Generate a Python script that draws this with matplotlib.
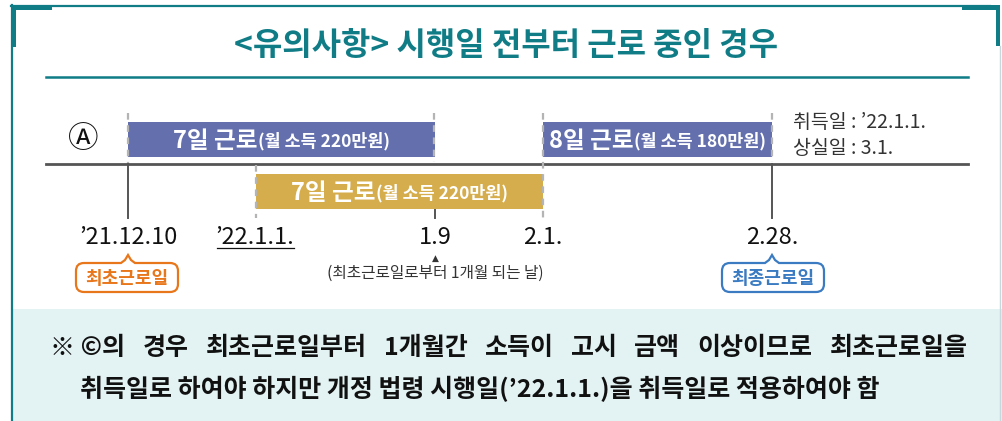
import numpy as np
import matplotlib
matplotlib.use("Agg")
import matplotlib.pyplot as plt
from matplotlib.patches import Rectangle, PathPatch
from matplotlib.path import Path

plt.rcParams['font.family'] = ['Noto Sans CJK KR', 'DejaVu Sans']

# ---- data ----
title = '<유의사항> 시행일 전부터 근로 중인 경우'
dates = ['’21.12.10', '’22.1.1.', '1.9', '2.1.', '2.28.']
bar_start = [0, 3, 1]          # index into dates
bar_end = [2, 4, 3]
bar_row = [0, 0, 1]            # 0 = above timeline, 1 = below
bar_days = ['7일 근로', '8일 근로', '7일 근로']
bar_income = ['(월 소득 220만원)', '(월 소득 180만원)', '(월 소득 220만원)']
side_note = ['취득일 : ’22.1.1.', '상실일 : 3.1.']
first_day = '최초근로일'
last_day = '최종근로일'
month_note = '(최초근로일로부터 1개월 되는 날)'
footer1 = ['※ ©의', '경우', '최초근로일부터', '1개월간', '소득이', '고시', '금액',
           '이상이므로', '최초근로일을']
footer2 = '취득일로 하여야 하지만 개정 법령 시행일(’22.1.1.)을 취득일로 적용하여야 함'

# ---- layout (pixels) ----
date_x = [128, 256, 435, 543, 772]
row_y = [(122, 157), (174, 209)]
bar_colors = ['#6470ae', '#6470ae', '#d5ad4c']
teal = '#0f7c86'

fig = plt.figure(figsize=(10.02, 4.21), dpi=100)
ax = fig.add_axes([0, 0, 1, 1])
ax.set_xlim(0, 1002)
ax.set_ylim(421, 0)
ax.axis('off')
renderer = fig.canvas.get_renderer()

# frame
ax.add_patch(Rectangle((13, 309), 989, 112, color='#e3f2f3', lw=0))
ax.plot([11, 990], [6, 6], color=teal, lw=1.6)
ax.add_patch(Rectangle((11, 5), 41, 5, color=teal, lw=0))
ax.add_patch(Rectangle((11, 5), 5, 42, color=teal, lw=0))
ax.plot([12, 12], [5, 421], color=teal, lw=1.6)
ax.add_patch(Rectangle((962, 5), 38, 5, color=teal, lw=0))
ax.add_patch(Rectangle((996, 5), 4, 41, color=teal, lw=0))
ax.plot([1000.5, 1000.5], [46, 421], color='#c5d9dd', lw=1)

# title
ax.text(506, 46, title, ha='center', va='center', fontsize=23,
        fontweight='bold', color=teal)
ax.plot([46, 968], [77, 77], color=teal, lw=1.8)

# bars
for s, e, r, d, inc, c in zip(bar_start, bar_end, bar_row, bar_days,
                              bar_income, bar_colors):
    x0, x1 = date_x[s], date_x[e]
    y0, y1 = row_y[r]
    ax.add_patch(Rectangle((x0, y0), x1 - x0, y1 - y0, color=c, lw=0))
    yc = (y0 + y1) / 2 + 1
    t1 = ax.text(0, yc, d, ha='left', va='center', fontsize=17,
                 fontweight='bold', color='white')
    t2 = ax.text(0, yc + 1, inc, ha='left', va='center', fontsize=12.5,
                 fontweight='bold', color='white')
    w1 = t1.get_window_extent(renderer).width
    w2 = t2.get_window_extent(renderer).width
    left = (x0 + x1) / 2 - (w1 + w2 + 1) / 2
    t1.set_x(left)
    t2.set_x(left + w1 + 1)

# timeline
ax.plot([46, 968], [164, 164], color='#555555', lw=2, zorder=3)

dash = dict(color='#b4b4b4', lw=1.6, ls=(0, (3, 2.5)), zorder=4)
solid = dict(color='#555555', lw=1.4, zorder=4)
ax.plot([date_x[0]] * 2, [113, 163], **dash)
ax.plot([date_x[0]] * 2, [164, 218], **solid)
ax.plot([date_x[1]] * 2, [165, 218], **dash)
ax.plot([date_x[2] - 1] * 2, [113, 162], **dash)
ax.plot([date_x[2]] * 2, [210, 218], **solid)
ax.plot([date_x[3]] * 2, [113, 218], **dash)
ax.plot([date_x[4]] * 2, [113, 162], **dash)
ax.plot([date_x[4]] * 2, [164, 218], **solid)

# date labels
for x, lab in zip(date_x, dates):
    ax.text(x if lab != dates[1] else 255, 237, lab, ha='center',
            va='center', fontsize=17, fontweight='medium', color='#111111')
ax.plot([217, 294], [248, 248], color='#111111', lw=0.9)

ax.text(83, 140, 'Ⓐ', ha='center', va='center', fontsize=22,
        color='#111111')

for i, line in enumerate(side_note):
    ax.text(793, 122 + i * 26, line, ha='left', va='center',
            fontsize=14, color='#333333')

ax.text(date_x[2], 258, '▲', ha='center', va='center', fontsize=6.5,
        color='#333333', family=['DejaVu Sans'])
ax.text(date_x[2], 273, month_note, ha='center', va='center',
        fontsize=11.3, color='#333333')


def bubble(cx, x0, x1, y0, y1, color, label):
    r = 8
    v = [(x0 + r, y0), (cx - 7, y0), (cx - 3, y0 - 3), (cx, y0 - 8),
         (cx + 3, y0 - 3), (cx + 7, y0), (x1 - r, y0),
         (x1, y0), (x1, y0 + r), (x1, y1 - r), (x1, y1), (x1 - r, y1),
         (x0 + r, y1), (x0, y1), (x0, y1 - r), (x0, y0 + r), (x0, y0),
         (x0 + r, y0)]
    codes = [Path.MOVETO, Path.LINETO, Path.LINETO, Path.LINETO,
             Path.LINETO, Path.LINETO, Path.LINETO,
             Path.CURVE3, Path.CURVE3, Path.LINETO, Path.CURVE3,
             Path.CURVE3, Path.LINETO, Path.CURVE3, Path.CURVE3,
             Path.LINETO, Path.CURVE3, Path.CURVE3]
    ax.add_patch(PathPatch(Path(v, codes), facecolor='white',
                           edgecolor=color, lw=1.6, zorder=5))
    ax.text((x0 + x1) / 2, (y0 + y1) / 2 + 1, label, ha='center',
            va='center', fontsize=13, fontweight='bold', color=color,
            zorder=6)


bubble(date_x[0], 76, 178, 263, 292, '#e8761a', first_day)
bubble(date_x[4], 722, 824, 263, 292, '#3a7bc2', last_day)

# footer, first line justified
ts = [ax.text(0, 348, w, ha='left', va='center', fontsize=18,
              fontweight='bold', color='#111111') for w in footer1]
ws = [t.get_window_extent(renderer).width for t in ts]
gap = (968 - 50 - sum(ws)) / (len(ws) - 1)
x = 50
for t, w in zip(ts, ws):
    t.set_x(x)
    x += w + gap
ax.text(80, 389, footer2, ha='left', va='center', fontsize=18,
        fontweight='bold', color='#111111')

fig.savefig('out.png', dpi=100)
